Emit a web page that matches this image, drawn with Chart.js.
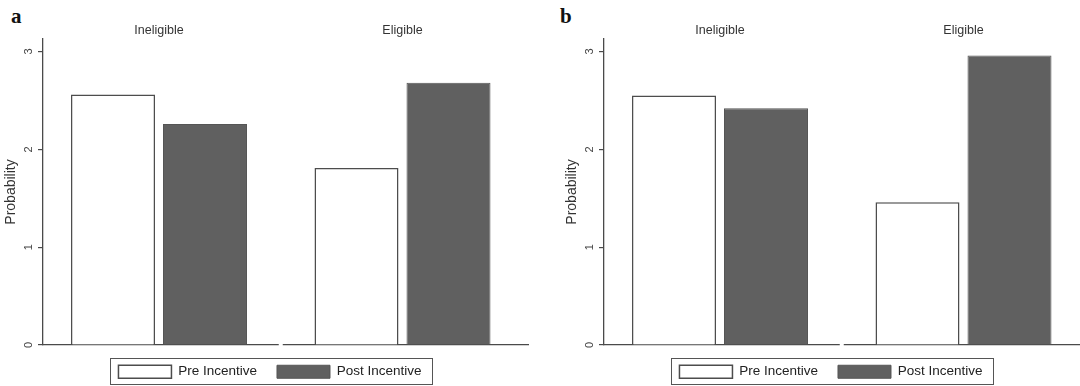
<!DOCTYPE html>
<html>
<head>
<meta charset="utf-8">
<script src="https://cdn.jsdelivr.net/npm/chart.js@4.4.1/dist/chart.umd.min.js"></script>
<style>
  html, body { margin: 0; padding: 0; background: #ffffff; }
  body { width: 1080px; height: 386px; overflow: hidden; position: relative; }
  .panel { position: absolute; top: 0; width: 540px; height: 386px; }
  .tag { position: absolute; top: 6px; font: bold 21px/1 "Liberation Serif", "DejaVu Serif", serif; color: #111; }
</style>
</head>
<body>
<div class="tag" style="left:11px">a</div>
<div class="tag" style="left:560px">b</div>
<div class="panel" style="left:0"><canvas id="panelA" width="540" height="386"></canvas></div>
<div class="panel" style="left:561px"><canvas id="panelB" width="540" height="386"></canvas></div>

<script>
// Groups shown along the top of each panel and the two series in each group
const groups = ['Ineligible', 'Eligible'];
const seriesNames = ['Pre Incentive', 'Post Incentive'];

// Panel a
const preA = [2.56, 1.81];
const postA = [2.26, 2.68];

// Panel b
const preB = [2.55, 1.46];
const postB = [2.42, 2.96];

// Y axis ticks and their labels
const yTicks = [0, 1, 2, 3];
const yTickLabels = ['0', '1', '2', '3'];

const FONT = '"Liberation Sans", Arial, Helvetica, sans-serif';
const AXIS_COLOR = '#4a4a4a';

// x range in group units so that the groups sit where the plot region needs them
const X_MIN = -0.4764;
const X_MAX = 1.5154;

const groupTicks = (scale) => { scale.ticks = groups.map((_, i) => ({ value: i })); };

// Outline box around the legend and the small break in the baseline between groups
const panelDecor = {
  id: 'panelDecor',
  afterDraw(chart) {
    const ctx = chart.ctx;
    const area = chart.chartArea;
    const xs = chart.scales.x;
    const gx = xs.getPixelForValue(0.5);
    ctx.save();
    ctx.fillStyle = '#ffffff';
    ctx.fillRect(gx - 2, area.bottom - 2, 4, 4);

    const hb = chart.legend.legendHitBoxes;
    if (hb && hb.length) {
      const first = hb[0];
      const last = hb[hb.length - 1];
      const left = Math.round(first.left - 8) + 0.5;
      const right = Math.round(last.left + last.width + 10) + 0.5;
      const top = Math.round(first.top - 7) + 0.5;
      const bottom = Math.round(first.top + first.height + 5) + 0.5;
      ctx.strokeStyle = '#555555';
      ctx.lineWidth = 1;
      ctx.strokeRect(left, top, right - left, bottom - top);
    }
    ctx.restore();
  }
};

function buildPanel(canvasId, pre, post) {
  const toPoints = (arr) => arr.map((v, i) => ({ x: i, y: v }));
  return new Chart(document.getElementById(canvasId), {
    type: 'bar',
    data: {
      datasets: [
        {
          label: seriesNames[0],
          data: toPoints(pre),
          backgroundColor: '#ffffff',
          borderColor: '#4d4d4d',
          borderWidth: 1.5,
          borderSkipped: 'start'
        },
        {
          label: seriesNames[1],
          data: toPoints(post),
          backgroundColor: '#606060',
          borderColor: '#555555',
          borderWidth: 1,
          borderSkipped: 'start'
        }
      ]
    },
    options: {
      responsive: false,
      animation: false,
      devicePixelRatio: 1,
      layout: { padding: 0, autoPadding: false },
      categoryPercentage: 0.7556,
      barPercentage: 0.913,
      scales: {
        x: {
          type: 'linear',
          position: 'bottom',
          offset: false,
          min: X_MIN,
          max: X_MAX,
          grid: { display: false, drawTicks: false, offset: false },
          border: { display: true, color: AXIS_COLOR, width: 1.3 },
          ticks: { display: false },
          afterBuildTicks: groupTicks,
          afterFit: (s) => { s.height = 0; }
        },
        xTop: {
          type: 'linear',
          position: 'top',
          offset: false,
          min: X_MIN,
          max: X_MAX,
          grid: { display: false, drawTicks: false, offset: false },
          border: { display: false },
          ticks: {
            autoSkip: false,
            maxRotation: 0,
            padding: 1,
            color: '#333333',
            font: { family: FONT, size: 12.5 },
            callback: (v) => groups[v] ?? ''
          },
          afterBuildTicks: groupTicks,
          afterFit: (s) => { s.height = 39; }
        },
        y: {
          type: 'linear',
          position: 'left',
          min: 0,
          max: 3.128,
          grid: { drawOnChartArea: false, drawTicks: true, tickLength: 5, color: AXIS_COLOR, lineWidth: 1.2 },
          border: { display: true, color: AXIS_COLOR, width: 1.3 },
          ticks: {
            stepSize: 1,
            includeBounds: false,
            minRotation: 90,
            maxRotation: 90,
            align: 'end',
            crossAlign: 'center',
            padding: 0,
            color: '#444444',
            font: { family: FONT, size: 11 },
            callback: (v) => { const k = yTicks.indexOf(v); return k >= 0 ? yTickLabels[k] : ''; }
          },
          title: {
            display: true,
            text: 'Probability',
            color: '#333333',
            font: { family: FONT, size: 14 },
            padding: { top: 3, bottom: 0 }
          },
          afterFit: (s) => { s.width = 43; }
        },
        yPad: {
          type: 'linear',
          position: 'right',
          grid: { display: false },
          border: { display: false },
          ticks: { display: false },
          afterFit: (s) => { s.width = 12; }
        }
      },
      plugins: {
        legend: {
          position: 'bottom',
          maxHeight: 41,
          labels: {
            boxWidth: 53,
            boxHeight: 13,
            padding: 20,
            color: '#222222',
            font: { family: FONT, size: 13.5 }
          }
        },
        tooltip: { enabled: false }
      }
    },
    plugins: [panelDecor]
  });
}

buildPanel('panelA', preA, postA);
buildPanel('panelB', preB, postB);
</script>
</body>
</html>
